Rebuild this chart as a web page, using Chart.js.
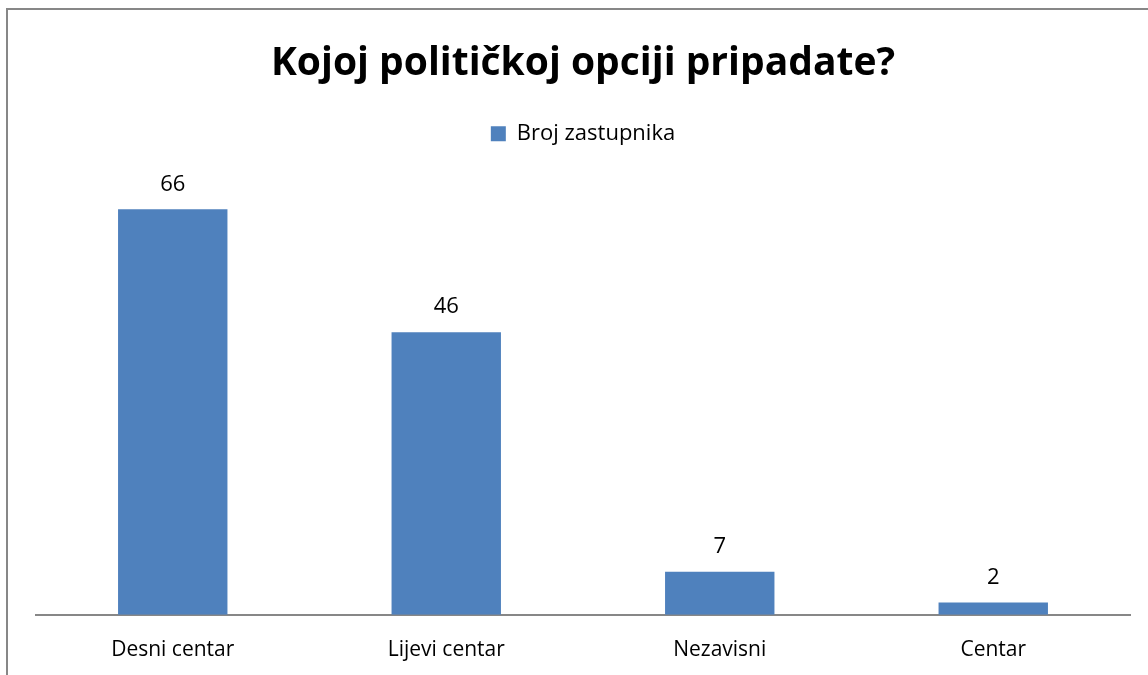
<!DOCTYPE html>
<html>
<head>
<meta charset="utf-8">
<script src="https://cdn.jsdelivr.net/npm/chart.js@4/dist/chart.umd.min.js"></script>
<style>
  html, body { margin: 0; padding: 0; background: #fff; overflow: hidden; }
  #wrap { position: relative; width: 1148px; height: 675px; }
</style>
</head>
<body>
<div id="wrap"><canvas id="c" width="1148" height="675"></canvas></div>
<script>
const categories = ['Desni centar', 'Lijevi centar', 'Nezavisni', 'Centar'];
const seriesName = 'Broj zastupnika';
const values = [66, 46, 7, 2];

const FONT = '"Open Sans", Lato, sans-serif';
const BLUE = '#4F81BD';

// Grey frame on the left and top edges of the chart
const framePlugin = {
  id: 'frame',
  beforeDraw(chart) {
    const ctx = chart.ctx;
    ctx.save();
    ctx.fillStyle = '#fff';
    ctx.fillRect(0, 0, chart.width, chart.height);
    ctx.strokeStyle = '#878787';
    ctx.lineWidth = 2;
    ctx.beginPath();
    ctx.moveTo(7, chart.height);
    ctx.lineTo(7, 9);
    ctx.lineTo(chart.width, 9);
    ctx.stroke();
    ctx.restore();
  }
};

// Extra room between the legend and the plot area
const legendGap = {
  id: 'legendGap',
  beforeInit(chart) {
    const fit = chart.legend.fit;
    chart.legend.fit = function () {
      fit.call(this);
      this.height += 30;
    };
  }
};

// Value labels above each bar
const valueLabels = {
  id: 'valueLabels',
  afterDatasetsDraw(chart) {
    const ctx = chart.ctx;
    const meta = chart.getDatasetMeta(0);
    ctx.save();
    ctx.font = '22px ' + FONT;
    ctx.fillStyle = '#000';
    ctx.textAlign = 'center';
    ctx.textBaseline = 'middle';
    meta.data.forEach((bar, i) => {
      ctx.fillText(String(values[i]), bar.x, bar.y - 25);
    });
    ctx.restore();
  }
};

new Chart(document.getElementById('c'), {
  type: 'bar',
  data: {
    labels: categories,
    datasets: [{
      label: seriesName,
      data: values,
      backgroundColor: BLUE,
      borderWidth: 0,
      categoryPercentage: 1.0,
      barPercentage: 0.4
    }]
  },
  options: {
    responsive: false,
    animation: false,
    layout: { padding: { left: 36, right: 18, top: 0, bottom: -11 } },
    plugins: {
      title: {
        display: true,
        text: 'Kojoj političkoj opciji pripadate?',
        color: '#000',
        font: { family: FONT, size: 39, weight: 'bold' },
        padding: { top: 40, bottom: 26 }
      },
      legend: {
        display: true,
        labels: {
          color: '#000',
          font: { family: FONT, size: 22 },
          boxWidth: 15,
          boxHeight: 15,
          padding: 10
        }
      },
      tooltip: { enabled: false }
    },
    scales: {
      x: {
        grid: { display: false, drawTicks: false },
        border: { display: true, color: '#878787', width: 2 },
        ticks: { color: '#000', font: { family: FONT, size: 21 }, padding: 23 }
      },
      y: {
        display: false,
        min: 0,
        max: 70
      }
    }
  },
  plugins: [framePlugin, legendGap, valueLabels]
});
</script>
</body>
</html>
